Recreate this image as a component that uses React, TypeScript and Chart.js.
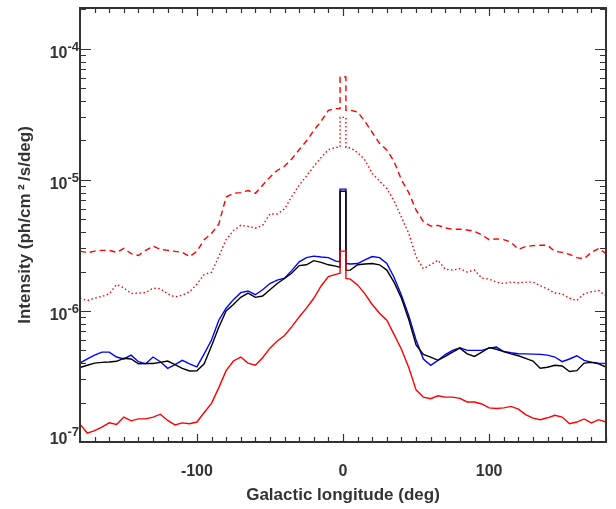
import React, { useEffect, useRef } from "react";
import { Chart, registerables } from "chart.js";

Chart.register(...registerables);

// Galactic longitude (deg); the spike bin around l = 0 is given by its two edges
const LON = [
  -180, -175, -170, -165, -160, -155, -150, -145, -140, -135, -130, -125, -120, -115, -110, -105,
  -100, -95, -90, -85, -80, -75, -70, -65, -60, -55, -50, -45, -40, -35, -30, -25, -20, -15, -10, -5,
  -2, -2, 2, 2,
  5, 10, 15, 20, 25, 30, 35, 40, 45, 50, 55, 60, 65, 70, 75, 80, 85, 90, 95, 100,
  105, 110, 115, 120, 125, 130, 135, 140, 145, 150, 155, 160, 165, 170, 175, 180,
];

const BLUE = [
  4.0e-7, 4.3e-7, 4.6e-7, 4.85e-7, 4.85e-7, 4.45e-7, 4.3e-7, 4.6e-7, 4.1e-7, 3.95e-7,
  4.45e-7, 4.1e-7, 3.65e-7, 3.9e-7, 4.2e-7, 3.95e-7, 3.75e-7, 4.7e-7, 6.0e-7, 8.5e-7,
  1.05e-6, 1.22e-6, 1.38e-6, 1.42e-6, 1.33e-6, 1.45e-6, 1.62e-6, 1.72e-6, 1.78e-6, 2.04e-6,
  2.37e-6, 2.55e-6, 2.62e-6, 2.58e-6, 2.55e-6, 2.4e-6,
  2.38e-6, 8.5e-6, 8.5e-6, 2.3e-6,
  2.28e-6, 2.3e-6, 2.45e-6, 2.6e-6, 2.55e-6, 2.3e-6, 1.8e-6, 1.32e-6, 9.2e-7, 6.0e-7,
  4.3e-7, 3.85e-7, 4.2e-7, 4.65e-7, 5.0e-7, 5.25e-7, 5.0e-7, 5.0e-7, 5.0e-7, 5.2e-7,
  5.3e-7, 4.9e-7, 4.8e-7, 4.72e-7, 4.7e-7, 4.68e-7, 4.66e-7, 4.6e-7, 4.45e-7, 4.1e-7,
  4.3e-7, 4.55e-7, 4.2e-7, 4.07e-7, 4.0e-7, 3.97e-7,
];

const BLACK = [
  3.7e-7, 3.85e-7, 4.0e-7, 4.05e-7, 4.08e-7, 4.13e-7, 4.35e-7, 4.3e-7, 3.95e-7, 3.97e-7,
  3.97e-7, 4.05e-7, 4.15e-7, 3.9e-7, 3.65e-7, 3.48e-7, 3.5e-7, 3.95e-7, 5.4e-7, 7.5e-7,
  1.0e-6, 1.12e-6, 1.27e-6, 1.37e-6, 1.27e-6, 1.3e-6, 1.45e-6, 1.62e-6, 1.77e-6, 1.95e-6,
  2.22e-6, 2.25e-6, 2.42e-6, 2.35e-6, 2.25e-6, 2.2e-6,
  2.15e-6, 8.2e-6, 8.2e-6, 2.04e-6,
  2.05e-6, 2.25e-6, 2.28e-6, 2.3e-6, 2.25e-6, 2.05e-6, 1.65e-6, 1.25e-6, 8.6e-7, 5.5e-7,
  4.65e-7, 4.45e-7, 4.2e-7, 4.5e-7, 4.85e-7, 5.2e-7, 4.7e-7, 4.5e-7, 4.85e-7, 5.25e-7,
  5.1e-7, 4.9e-7, 4.7e-7, 4.55e-7, 4.35e-7, 4.15e-7, 3.65e-7, 3.72e-7, 3.85e-7, 3.8e-7,
  3.45e-7, 3.5e-7, 4.0e-7, 4.05e-7, 3.95e-7, 3.73e-7,
];

const RED_SOLID = [
  1.37e-7, 1.17e-7, 1.22e-7, 1.3e-7, 1.4e-7, 1.36e-7, 1.55e-7, 1.45e-7, 1.5e-7, 1.5e-7,
  1.55e-7, 1.63e-7, 1.46e-7, 1.35e-7, 1.4e-7, 1.38e-7, 1.42e-7, 1.68e-7, 1.97e-7, 2.6e-7,
  3.5e-7, 4.15e-7, 4.45e-7, 4.0e-7, 3.85e-7, 4.4e-7, 5.2e-7, 5.9e-7, 6.5e-7, 7.6e-7,
  9.0e-7, 1.05e-6, 1.25e-6, 1.55e-6, 1.83e-6, 1.9e-6,
  1.94e-6, 2.86e-6, 2.86e-6, 1.77e-6,
  1.75e-6, 1.58e-6, 1.35e-6, 1.12e-6, 9.6e-7, 8.5e-7, 6.6e-7, 5.1e-7, 3.7e-7, 2.5e-7,
  2.2e-7, 2.14e-7, 2.25e-7, 2.2e-7, 2.2e-7, 2.15e-7, 2.02e-7, 2.02e-7, 1.95e-7, 1.82e-7,
  1.8e-7, 1.82e-7, 1.87e-7, 1.78e-7, 1.62e-7, 1.52e-7, 1.48e-7, 1.53e-7, 1.6e-7, 1.55e-7,
  1.38e-7, 1.42e-7, 1.5e-7, 1.4e-7, 1.48e-7, 1.42e-7,
];

const RED_DASHED = [
  2.86e-6, 2.78e-6, 2.86e-6, 2.9e-6, 2.9e-6, 2.8e-6, 3.0e-6, 2.74e-6, 2.65e-6, 2.9e-6,
  3.12e-6, 2.95e-6, 2.9e-6, 2.85e-6, 2.8e-6, 2.6e-6, 2.85e-6, 3.5e-6, 3.9e-6, 4.6e-6,
  7.4e-6, 7.9e-6, 8.0e-6, 8.3e-6, 7.9e-6, 9.1e-6, 1.05e-5, 1.18e-5, 1.27e-5, 1.45e-5,
  1.7e-5, 1.98e-5, 2.38e-5, 2.8e-5, 3.4e-5, 3.5e-5,
  3.5e-5, 6.1e-5, 6.1e-5, 3.4e-5,
  3.4e-5, 3.3e-5, 2.8e-5, 2.3e-5, 1.9e-5, 1.69e-5, 1.38e-5, 1.0e-5, 8.0e-6, 5.9e-6,
  4.8e-6, 4.44e-6, 4.5e-6, 4.3e-6, 4.2e-6, 4.2e-6, 4.15e-6, 4.05e-6, 3.8e-6, 3.5e-6,
  3.55e-6, 3.5e-6, 3.35e-6, 2.95e-6, 3.1e-6, 3.15e-6, 3.17e-6, 3.17e-6, 2.85e-6, 2.8e-6,
  2.7e-6, 2.55e-6, 2.5e-6, 2.8e-6, 3.0e-6, 2.74e-6,
];

const RED_DOTTED = [
  1.25e-6, 1.2e-6, 1.25e-6, 1.29e-6, 1.35e-6, 1.59e-6, 1.5e-6, 1.36e-6, 1.37e-6, 1.38e-6,
  1.49e-6, 1.48e-6, 1.35e-6, 1.28e-6, 1.32e-6, 1.4e-6, 1.6e-6, 1.9e-6, 1.97e-6, 2.6e-6,
  3.5e-6, 4.1e-6, 4.5e-6, 4.42e-6, 4.28e-6, 4.5e-6, 5.5e-6, 5.5e-6, 6.0e-6, 7.5e-6,
  9.1e-6, 1.07e-5, 1.27e-5, 1.48e-5, 1.7e-5, 1.77e-5,
  1.78e-5, 3.0e-5, 3.0e-5, 1.77e-5,
  1.75e-5, 1.62e-5, 1.42e-5, 1.12e-5, 9.8e-6, 8.6e-6, 6.9e-6, 5.2e-6, 3.9e-6, 2.6e-6,
  2.1e-6, 2.25e-6, 2.44e-6, 2.08e-6, 2.05e-6, 2.1e-6, 1.98e-6, 2.05e-6, 1.78e-6, 1.75e-6,
  1.66e-6, 1.62e-6, 1.66e-6, 1.64e-6, 1.66e-6, 1.66e-6, 1.56e-6, 1.47e-6, 1.37e-6, 1.35e-6,
  1.25e-6, 1.2e-6, 1.35e-6, 1.4e-6, 1.43e-6, 1.3e-6,
];

const X_MIN = -180;
const X_MAX = 180;
const X_MINOR_STEP = 10;
const X_MAJOR_STEP = 100;
const X_LABELS = [-100, 0, 100];
const Y_MIN = 1e-7;
const Y_MAX = 2.05e-4;
const Y_DECADES = [-7, -6, -5, -4];

const X_TITLE = "Galactic longitude (deg)";
const Y_TITLE = "Intensity (ph/cm\u2009\u00B2\u2009/s/deg)";

const FONT_FAMILY = '"Liberation Sans", Arial, Helvetica, sans-serif';
const TEXT_COLOR = "#333333";
const AXIS_COLOR = "#333333";

const framePlugin = {
  id: "idlFrame",
  afterDatasetsDraw(chart: any) {
    const { ctx, chartArea: a, scales } = chart;
    const xs = scales.x;
    const ys = scales.y;
    ctx.save();
    ctx.strokeStyle = AXIS_COLOR;
    ctx.lineWidth = 1.2;
    ctx.beginPath();
    for (let v = X_MIN; v <= X_MAX; v += X_MINOR_STEP) {
      const px = Math.round(xs.getPixelForValue(v)) + 0.5;
      const len = v % X_MAJOR_STEP === 0 ? 8 : 5;
      ctx.moveTo(px, a.bottom);
      ctx.lineTo(px, a.bottom - len);
      ctx.moveTo(px, a.top);
      ctx.lineTo(px, a.top + len);
    }
    for (const e of Y_DECADES) {
      for (let k = 1; k <= 9; k++) {
        const v = k * Math.pow(10, e);
        if (v < Y_MIN * 0.999 || v > Y_MAX) continue;
        const py = Math.round(ys.getPixelForValue(v)) + 0.5;
        const len = k === 1 ? 11 : 6;
        ctx.moveTo(a.left, py);
        ctx.lineTo(a.left + len, py);
        ctx.moveTo(a.right, py);
        ctx.lineTo(a.right - len, py);
      }
    }
    ctx.stroke();

    ctx.lineWidth = 2;
    ctx.strokeRect(a.left, a.top, a.right - a.left, a.bottom - a.top);

    // y tick labels with superscript exponents
    ctx.fillStyle = TEXT_COLOR;
    ctx.textAlign = "right";
    ctx.textBaseline = "alphabetic";
    const rightX = a.left - 1;
    for (const e of Y_DECADES) {
      const py = ys.getPixelForValue(Math.pow(10, e));
      const base = Math.min(py + 9, a.bottom + 1.5);
      const exp = String(e);
      ctx.font = `bold 13px ${FONT_FAMILY}`;
      const w = ctx.measureText(exp).width;
      ctx.fillText(exp, rightX, base - 7.3);
      ctx.font = `bold 16px ${FONT_FAMILY}`;
      ctx.fillText("10", rightX - w, base);
    }
    ctx.restore();
  },
};

export default function App() {
  const canvasRef = useRef<HTMLCanvasElement | null>(null);

  useEffect(() => {
    const canvas = canvasRef.current;
    if (!canvas) return;
    const mk = (vals: number[]) => LON.map((x, i) => ({ x, y: vals[i] }));
    const line = (label: string, vals: number[], color: string, order: number, dash?: number[]) => ({
      label,
      data: mk(vals),
      borderColor: color,
      borderWidth: 1.4,
      borderDash: dash || [],
      pointRadius: 0,
      fill: false,
      tension: 0,
      order,
    });
    const chart = new Chart(canvas, {
      type: "line",
      data: {
        datasets: [
          line("red solid", RED_SOLID, "#ff0000", 0),
          line("black", BLACK, "#000000", 1),
          line("blue", BLUE, "#0000ff", 2),
          line("red dotted", RED_DOTTED, "#ff0000", 3, [1.5, 2.5]),
          line("red dashed", RED_DASHED, "#ff0000", 4, [6, 4]),
        ],
      },
      options: {
        responsive: false,
        animation: false,
        events: [],
        layout: { padding: { top: 8, right: 10, left: 0, bottom: 0 } },
        plugins: {
          legend: { display: false },
          tooltip: { enabled: false },
          title: { display: false },
        },
        scales: {
          x: {
            type: "linear",
            min: X_MIN,
            max: X_MAX,
            afterFit: (scale: any) => {
              scale.height = 67;
              scale.paddingLeft = 0;
              scale.paddingRight = 0;
            },
            grid: { display: false, drawTicks: false },
            border: { display: false },
            ticks: {
              stepSize: X_MINOR_STEP,
              autoSkip: false,
              maxRotation: 0,
              padding: 20,
              color: TEXT_COLOR,
              font: { family: FONT_FAMILY, size: 16, weight: "bold" },
              callback: (v: any) => (X_LABELS.includes(Number(v)) ? String(v) : ""),
            },
            title: {
              display: true,
              text: X_TITLE,
              color: TEXT_COLOR,
              font: { family: FONT_FAMILY, size: 17, weight: "bold" },
              padding: { top: 0, bottom: 3 },
            },
          },
          y: {
            type: "logarithmic",
            min: Y_MIN,
            max: Y_MAX,
            afterFit: (scale: any) => {
              scale.width = 80;
              scale.paddingTop = 0;
              scale.paddingBottom = 0;
            },
            grid: { display: false, drawTicks: false },
            border: { display: false },
            ticks: { display: false },
            title: {
              display: true,
              text: Y_TITLE,
              color: TEXT_COLOR,
              font: { family: FONT_FAMILY, size: 17, weight: "bold" },
              padding: { top: 15, bottom: 0 },
            },
          },
        },
      },
      plugins: [framePlugin],
    } as any);
    return () => chart.destroy();
  }, []);

  return (
    <div style={{ position: "fixed", left: 0, top: 0, width: 616, height: 509, background: "#ffffff" }}>
      <canvas ref={canvasRef} width={616} height={509} style={{ display: "block" }} />
    </div>
  );
}
